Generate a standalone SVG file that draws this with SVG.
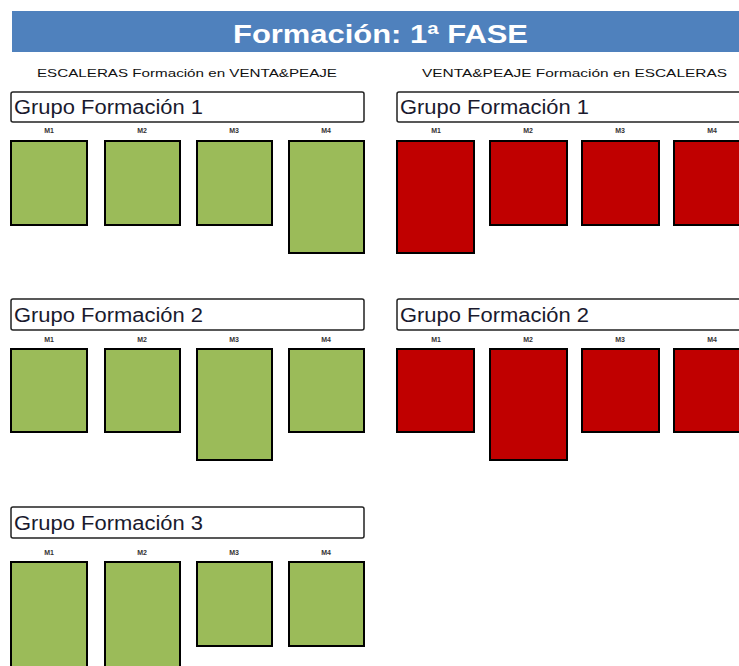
<svg xmlns="http://www.w3.org/2000/svg" width="739" height="666" viewBox="0 0 739 666">
<style>
.title{font-family:"Liberation Sans",Arial,sans-serif;font-size:25px;font-weight:bold;fill:#ffffff}
.sub{font-family:"Liberation Sans",Arial,sans-serif;font-size:11px;fill:#111111}
.gbox{fill:#ffffff;stroke:#222222;stroke-width:1.5}
.gtxt{font-family:"Liberation Sans",Arial,sans-serif;font-size:20px;fill:#1a1a2e}
.m{font-family:"Liberation Sans",Arial,sans-serif;font-size:7px;font-weight:bold;fill:#333333;text-anchor:middle}
.g{fill:#9BBB59;stroke:#000000;stroke-width:2}
.r{fill:#C00000;stroke:#000000;stroke-width:2}
</style>
<rect width="739" height="666" fill="#ffffff"/>
<g id="title">
<rect x="12" y="11" width="727" height="41" fill="#4F81BD"/>
<text class="title" x="233" y="43" textLength="295" lengthAdjust="spacingAndGlyphs">Formación: 1ª FASE</text>
</g>
<g id="subtitle-left"><text class="sub" x="37" y="77" textLength="300" lengthAdjust="spacingAndGlyphs">ESCALERAS Formación en VENTA&amp;PEAJE</text></g>
<g id="subtitle-right"><text class="sub" x="422" y="77" textLength="305" lengthAdjust="spacingAndGlyphs">VENTA&amp;PEAJE Formación en ESCALERAS</text></g>

<g id="left-group1">
<rect class="gbox" x="11" y="92" width="353" height="30" rx="2"/>
<text class="gtxt" x="14" y="114" textLength="189" lengthAdjust="spacingAndGlyphs">Grupo Formación 1</text>
<text class="m" x="49" y="133">M1</text><text class="m" x="142" y="133">M2</text><text class="m" x="234" y="133">M3</text><text class="m" x="326" y="133">M4</text>
<rect class="g" x="11" y="141" width="76" height="84"/>
<rect class="g" x="105" y="141" width="75" height="84"/>
<rect class="g" x="197" y="141" width="75" height="84"/>
<rect class="g" x="289" y="141" width="75" height="112"/>
</g>

<g id="right-group1">
<rect class="gbox" x="397" y="92" width="360" height="30" rx="2"/>
<text class="gtxt" x="400" y="114" textLength="189" lengthAdjust="spacingAndGlyphs">Grupo Formación 1</text>
<text class="m" x="436" y="133">M1</text><text class="m" x="528" y="133">M2</text><text class="m" x="620" y="133">M3</text><text class="m" x="712" y="133">M4</text>
<rect class="r" x="397" y="141" width="77" height="112"/>
<rect class="r" x="490" y="141" width="77" height="84"/>
<rect class="r" x="582" y="141" width="77" height="84"/>
<rect class="r" x="674" y="141" width="77" height="84"/>
</g>

<g id="left-group2">
<rect class="gbox" x="11" y="299" width="353" height="31" rx="2"/>
<text class="gtxt" x="14" y="322" textLength="189" lengthAdjust="spacingAndGlyphs">Grupo Formación 2</text>
<text class="m" x="49" y="342">M1</text><text class="m" x="142" y="342">M2</text><text class="m" x="234" y="342">M3</text><text class="m" x="326" y="342">M4</text>
<rect class="g" x="11" y="349" width="76" height="83"/>
<rect class="g" x="105" y="349" width="75" height="83"/>
<rect class="g" x="197" y="349" width="75" height="111"/>
<rect class="g" x="289" y="349" width="75" height="83"/>
</g>

<g id="right-group2">
<rect class="gbox" x="397" y="299" width="360" height="31" rx="2"/>
<text class="gtxt" x="400" y="322" textLength="189" lengthAdjust="spacingAndGlyphs">Grupo Formación 2</text>
<text class="m" x="436" y="342">M1</text><text class="m" x="528" y="342">M2</text><text class="m" x="620" y="342">M3</text><text class="m" x="712" y="342">M4</text>
<rect class="r" x="397" y="349" width="77" height="83"/>
<rect class="r" x="490" y="349" width="77" height="111"/>
<rect class="r" x="582" y="349" width="77" height="83"/>
<rect class="r" x="674" y="349" width="77" height="83"/>
</g>

<g id="left-group3">
<rect class="gbox" x="11" y="507" width="353" height="31" rx="2"/>
<text class="gtxt" x="14" y="530" textLength="189" lengthAdjust="spacingAndGlyphs">Grupo Formación 3</text>
<text class="m" x="49" y="555">M1</text><text class="m" x="142" y="555">M2</text><text class="m" x="234" y="555">M3</text><text class="m" x="326" y="555">M4</text>
<rect class="g" x="11" y="562" width="76" height="130"/>
<rect class="g" x="105" y="562" width="75" height="130"/>
<rect class="g" x="197" y="562" width="75" height="84"/>
<rect class="g" x="289" y="562" width="75" height="84"/>
</g>
<g id="connectors"/>
</svg>
